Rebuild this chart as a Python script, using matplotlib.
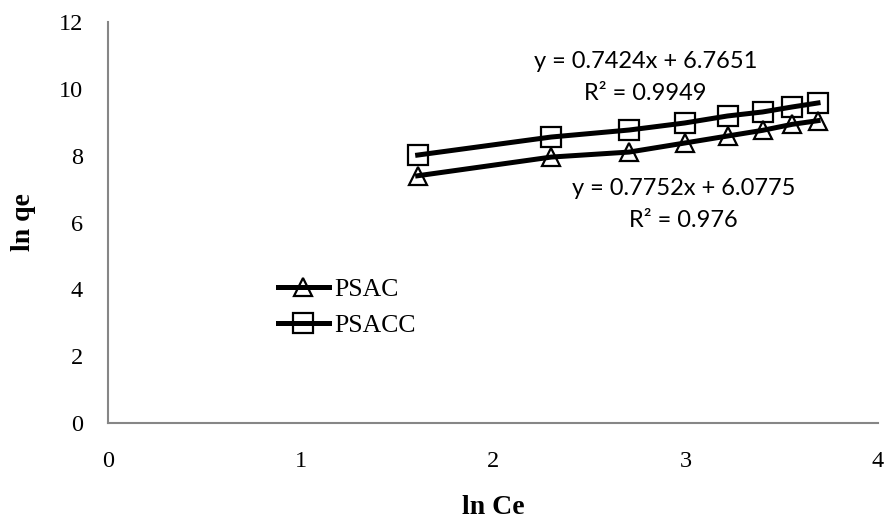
import numpy as np
import matplotlib.pyplot as plt

# ln Ce values (shared by both adsorbents)
ln_ce = [1.609, 2.303, 2.708, 2.996, 3.219, 3.401, 3.555, 3.689]

# ln qe values
psac = [7.40, 7.96, 8.11, 8.38, 8.59, 8.76, 8.94, 9.05]
psacc = [8.02, 8.56, 8.77, 8.98, 9.19, 9.31, 9.46, 9.58]

x_ticks = [0, 1, 2, 3, 4]
y_ticks = [0, 2, 4, 6, 8, 10, 12]

fig = plt.figure(figsize=(8.88, 5.26), dpi=100)
ax = fig.add_axes([0.1216, 0.1958, 0.867, 0.7622])

ax.plot(ln_ce, psac, color='black', lw=3.6, marker='^', ms=13.5,
        mfc='none', mec='black', mew=1.6, label='PSAC')
ax.plot(ln_ce, psacc, color='black', lw=3.6, marker='s', ms=14,
        mfc='none', mec='black', mew=1.6, label='PSACC')

ax.set_xlim(0, 4)
ax.set_ylim(0, 12)
ax.set_xticks(x_ticks)
ax.set_yticks(y_ticks)
ax.tick_params(length=0, labelsize=17.5)
ax.tick_params(axis='x', pad=20)
ax.tick_params(axis='y', pad=18)
for lab in ax.get_xticklabels() + ax.get_yticklabels():
    lab.set_fontfamily('Liberation Serif')

for s in ['top', 'right']:
    ax.spines[s].set_visible(False)
for s in ['left', 'bottom']:
    ax.spines[s].set_color('#868686')
    ax.spines[s].set_linewidth(1.5)

ax.set_xlabel('ln Ce', fontfamily='Liberation Serif', fontweight='bold',
              fontsize=20, labelpad=17)
ax.set_ylabel('ln qe', fontfamily='Liberation Serif', fontweight='bold',
              fontsize=20, labelpad=16)

# trendline equations
eq_font = dict(fontfamily='Lato', fontsize=17, ha='center', va='center')
ax.text(2.795, 10.83, 'y = 0.7424x + 6.7651', **eq_font)
ax.text(2.79, 9.87, 'R² = 0.9949', **eq_font)
ax.text(2.992, 7.03, 'y = 0.7752x + 6.0775', **eq_font)
ax.text(2.992, 6.07, 'R² = 0.976', **eq_font)

ax.legend(loc='upper left', bbox_to_anchor=(0.207, 0.388), frameon=False,
          prop={'family': 'Liberation Serif', 'size': 18.5},
          handlelength=2.0, handletextpad=0.2, labelspacing=0.5,
          borderaxespad=0)

fig.savefig('out.png', dpi=100)
